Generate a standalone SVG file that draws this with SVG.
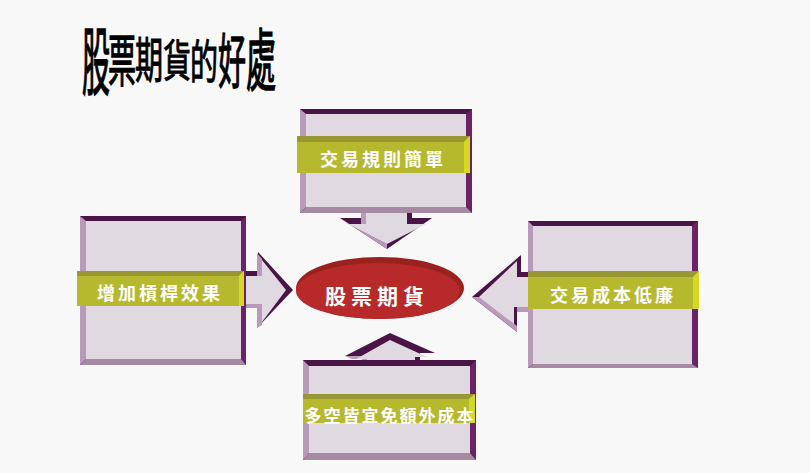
<svg xmlns="http://www.w3.org/2000/svg" width="810" height="473" viewBox="0 0 810 473">
<style>
.bg{fill:#f8f8f8}
.face{fill:#e0d9e2}
.dk{fill:#4b1447}
.dr{fill:#6b2366}
.ml{fill:#b99ab8}
.mb{fill:#a68aa4}
.bar{fill:#b6b92d}
.bart{fill:#979833}
.bare{fill:#d5d922}
.lbl{font-family:"Noto Sans CJK TC","Noto Sans CJK SC",sans-serif;font-weight:bold;fill:#ffffff;text-anchor:middle}
.ttl{font-family:"Noto Sans CJK TC","Noto Sans CJK SC",sans-serif;font-weight:normal;fill:#000000;stroke:#000000;stroke-width:0.9;font-size:40px;text-anchor:middle}
</style>
<rect class="bg" x="0" y="0" width="810" height="473"/>

<g id="title">
<text class="ttl" transform="translate(96,61) scale(0.7,1.85)" y="15">股</text>
<text class="ttl" transform="translate(122,60) scale(0.7,1.4)" y="15">票</text>
<text class="ttl" transform="translate(149,60) scale(0.7,1.22)" y="15">期</text>
<text class="ttl" transform="translate(177,60) scale(0.7,1.1)" y="15">貨</text>
<text class="ttl" transform="translate(204,61) scale(0.7,1.17)" y="15">的</text>
<text class="ttl" transform="translate(232,61) scale(0.7,1.47)" y="15">好</text>
<text class="ttl" transform="translate(261,60) scale(0.75,1.67)" y="15">處</text>
</g>

<g id="connectors">
<!-- down arrow from top box -->
<polygon class="dk" points="362,207 412,207 412,218 432,218 387,249 340,218 362,218"/>
<polygon class="ml" points="340,218 348,224 387,244 387,249"/>
<rect class="ml" x="361" y="207" width="5" height="17"/>
<polygon class="face" points="366,207 407,207 407,224 426,224 387,244 348,224 366,224"/>
<!-- right arrow from left box -->
<polygon class="dk" points="244,271 258,271 258,252 293,290 257,328 257,308 244,308"/>
<polygon class="ml" points="257,253 262,259 262,276 257,276"/>
<polygon class="ml" points="244,304 262,304 262,325 257,328 257,308 244,308"/>
<polygon class="face" points="244,276 262,276 262,260 286,290 262,322 262,304 244,304"/>
<!-- left arrow from right box -->
<polygon class="dk" points="528,272 521,272 521,255 472,297 517,332 517,312 528,312"/>
<polygon class="ml" points="472,297 480,297 517,326 517,332"/>
<rect class="ml" x="517" y="307" width="11" height="5"/>
<polygon class="face" points="528,277 517,277 517,261 479,297 514,324 514,307 528,307"/>
<!-- up arrow from bottom box -->
<polygon class="dk" points="362,366 362,356 345,356 390,333 435,353 420,353 420,366"/>
<polygon class="ml" points="345,356 362,356 362,366 367,366 367,359 352,359"/>
<polygon class="face" points="367,366 367,359 356,359 390,340 427,357 415,357 415,366"/>
</g>

<g id="node-top">
<rect class="dk" x="300" y="109" width="172" height="104"/>
<polygon class="dr" points="472,109 472,213 466,207 466,114"/>
<polygon class="ml" points="300,109 306,114 306,207 300,213"/>
<polygon class="mb" points="300,213 306,207 466,207 472,213"/>
<rect class="face" x="306" y="114" width="160" height="93"/>
<rect class="bar" x="297" y="136" width="173" height="37"/>
<polygon class="bart" points="297,136 470,136 464,142 297,142"/>
<polygon class="bare" points="464,142 470,136 470,173 464,173"/>
<text class="lbl" x="383" y="166" font-size="18" letter-spacing="3">交易規則簡單</text>
</g>

<g id="node-left">
<rect class="dk" x="80" y="216" width="166" height="149"/>
<polygon class="dr" points="246,216 246,365 241,359 241,221"/>
<polygon class="ml" points="80,216 86,221 86,359 80,365"/>
<polygon class="mb" points="80,365 86,359 241,359 246,365"/>
<rect class="face" x="86" y="221" width="155" height="138"/>
<rect class="bar" x="77" y="271" width="167" height="35"/>
<polygon class="bart" points="77,271 244,271 239,276 77,276"/>
<polygon class="bare" points="239,276 244,271 244,306 239,306"/>
<text class="lbl" x="160" y="300" font-size="18" letter-spacing="3">增加槓桿效果</text>
</g>

<g id="node-right">
<rect class="dk" x="528" y="221" width="170" height="147"/>
<polygon class="dr" points="698,221 698,368 692,364 692,226"/>
<polygon class="ml" points="528,221 533,226 533,364 528,368"/>
<polygon class="mb" points="528,368 533,364 692,364 698,368"/>
<rect class="face" x="533" y="226" width="159" height="138"/>
<rect class="bar" x="528" y="271" width="171" height="38"/>
<polygon class="bart" points="528,271 699,271 693,277 528,277"/>
<polygon class="bare" points="693,277 699,271 699,309 693,309"/>
<text class="lbl" x="613" y="302" font-size="18" letter-spacing="3">交易成本低廉</text>
</g>

<g id="node-bottom">
<rect class="dk" x="303" y="360" width="173" height="100"/>
<polygon class="dr" points="476,360 476,460 470,453 470,366"/>
<polygon class="ml" points="303,360 309,366 309,453 303,460"/>
<polygon class="mb" points="303,460 309,453 470,453 476,460"/>
<rect class="face" x="309" y="366" width="161" height="87"/>
<rect class="bar" x="303" y="394" width="172" height="29"/>
<polygon class="bart" points="303,394 475,394 469,399 303,399"/>
<polygon class="bare" points="469,399 475,394 475,423 469,423"/>
<text class="lbl" x="390" y="422" font-size="17" letter-spacing="2">多空皆宜免額外成本</text>
</g>

<g id="node-center">
<ellipse cx="380" cy="288" rx="84" ry="31" fill="#9b211e"/>
<ellipse cx="378" cy="291" rx="82" ry="28" fill="#b8292a"/>
<text class="lbl" x="377" y="304" font-size="21" letter-spacing="5">股票期貨</text>
</g>
</svg>
